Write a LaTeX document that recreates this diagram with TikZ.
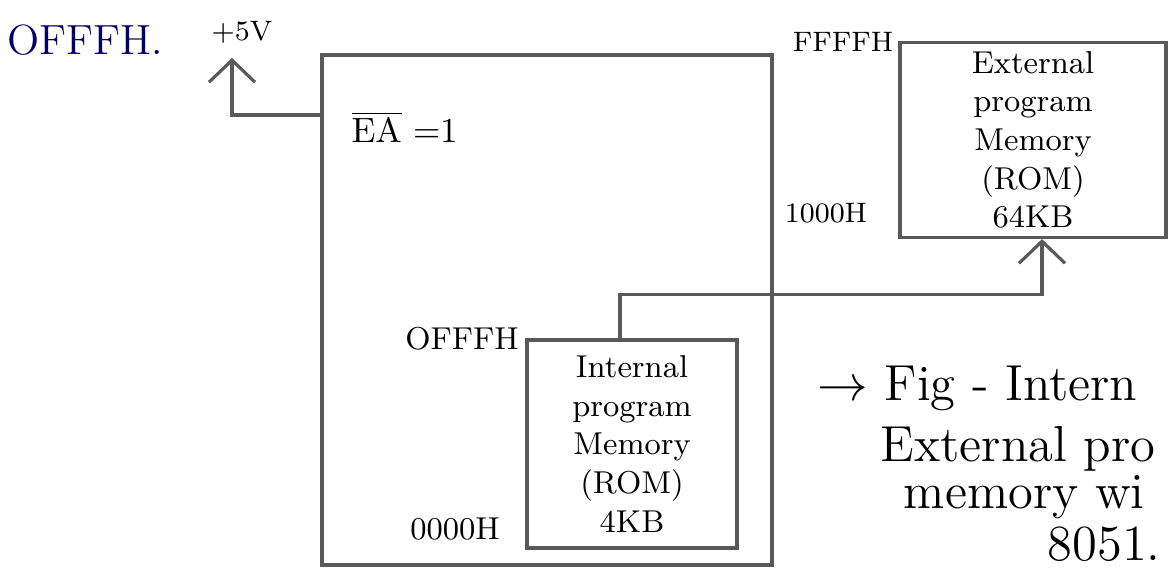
\documentclass[tikz,border=0pt]{standalone}
\usepackage{tikz}
\usetikzlibrary{positioning,arrows.meta}

\begin{document}
\begin{tikzpicture}[font=\normalsize,>={Straight Barb[length=2.2mm,width=4.6mm]}]
  \useasboundingbox (0,0) rectangle (11.70,5.80);
  \tikzset{
    membox/.style={draw=gray!70!black,line width=0.9pt,align=center,inner sep=1pt,font=\small},
    wire/.style={draw=gray!70!black,line width=0.9pt},
    addr/.style={font=\small},
    capline/.style={anchor=west,font=\Large,inner sep=0pt}
  }
  % 8051 chip and the two program memories
  \node[membox,minimum width=4.5cm,minimum height=5.1cm] (chip) at (5.47,2.70) {};
  \node[membox,minimum width=2.10cm,minimum height=2.08cm] (int) at (6.32,1.36)
    {Internal\\program\\Memory\\(ROM)\\4KB};
  \node[membox,minimum width=2.66cm,minimum height=1.95cm] (ext) at (10.33,4.40)
    {External\\program\\Memory\\(ROM)\\64KB};

  % address labels
  \node[font=\large,text=blue!40!black] (hint) at (0.85,5.40) {OFFFH.};
  \node[addr] (intTop) at (4.62,2.41) {OFFFH};
  \node[addr] (intBot) at (4.55,0.51) {0000H};
  \node[font=\footnotesize] (extTop) at (8.43,5.38) {FFFFH};
  \node[font=\footnotesize] (extBot) at (8.26,3.67) {1000H};

  % EA pin tied to +5V
  \node (ea) at (4.05,4.53) {$\overline{\mathrm{EA}}$ =1};
  \node[font=\footnotesize] (vcc) at (2.42,5.48) {+5V};
  \coordinate (vccTip) at (2.32,5.22);
  \draw[wire,->] ([yshift=1.95cm]chip.west) -| (vccTip);

  % bus to the external memory
  \draw[wire,->] ([xshift=-1.2mm]int.north) -- ++(0,0.44) -| ([xshift=0.9mm]ext.south);

  % caption
  \node[capline] (cap1) at (8.17,1.92) {$\rightarrow$ Fig - Intern};
  \node[capline] (cap2) at (8.80,1.31) {External pro};
  \node[capline] (cap3) at (9.03,0.83) {memory wi};
  \node[capline] (cap4) at (10.47,0.36) {8051.};
\end{tikzpicture}
\end{document}
